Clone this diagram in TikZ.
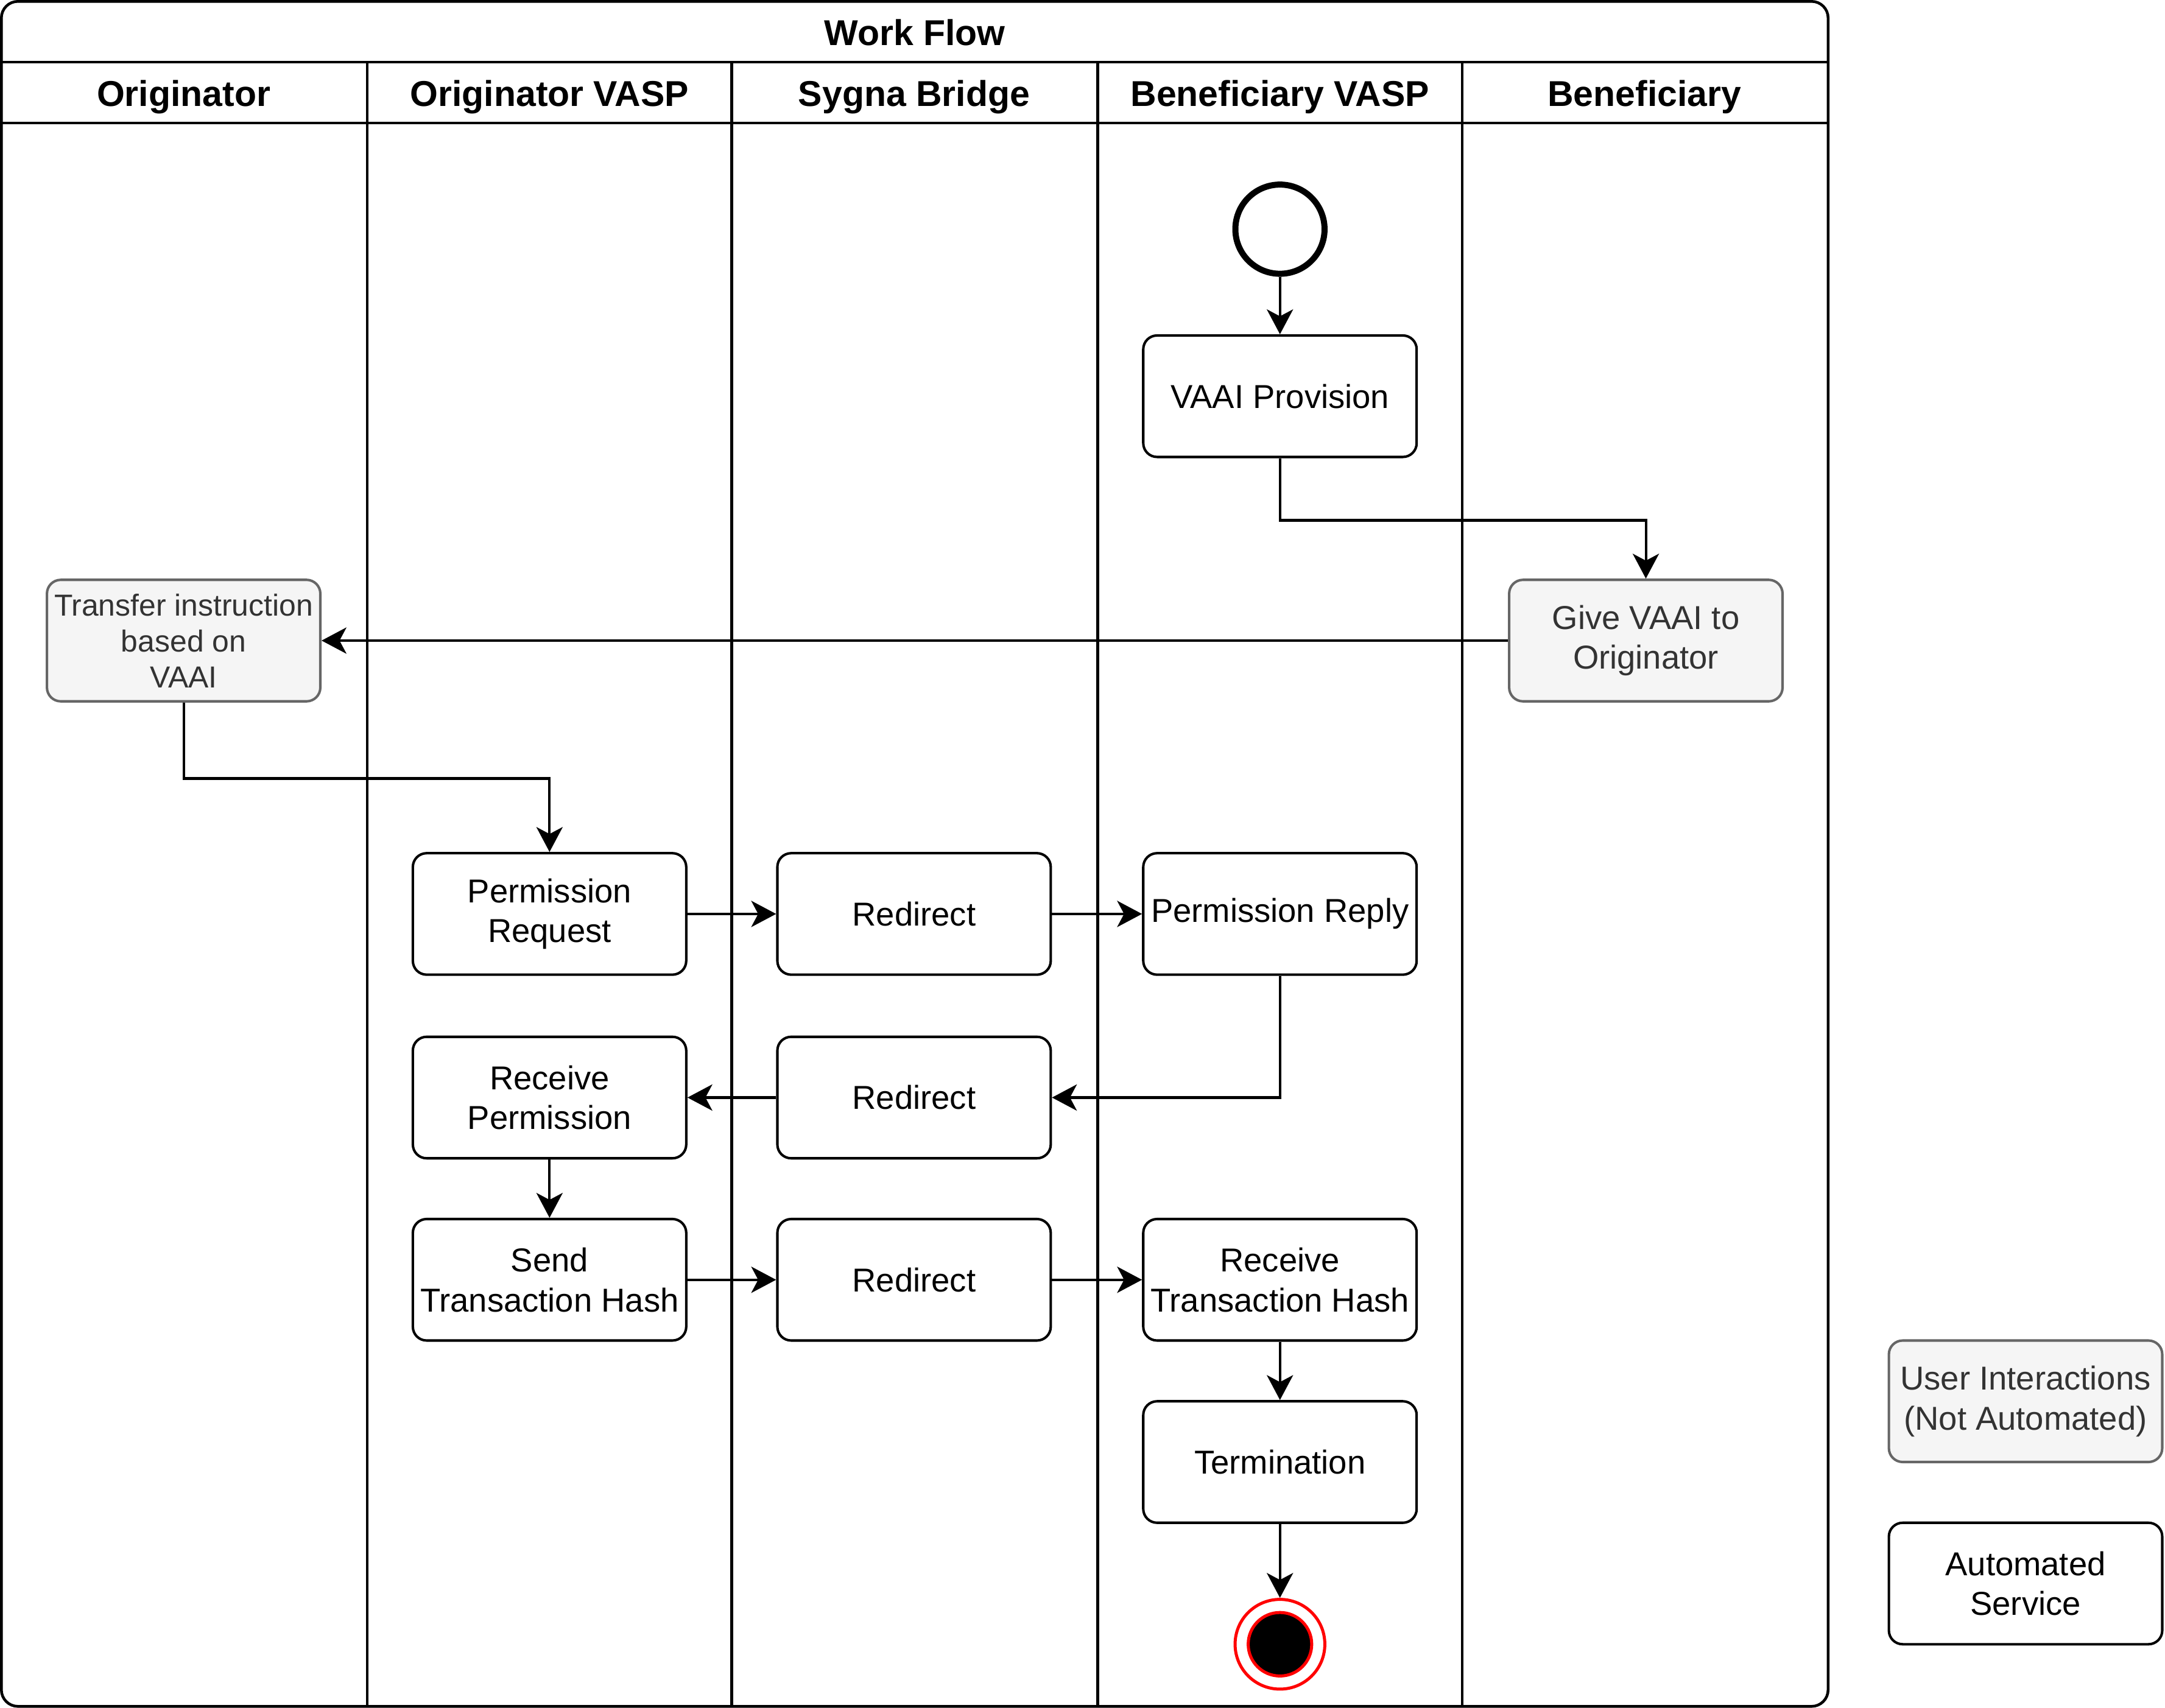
\documentclass[tikz,border=0pt]{standalone}
\usepackage{fontspec}
\setmainfont{Liberation Sans}
\usetikzlibrary{arrows.meta}
\definecolor{uifill}{HTML}{F5F5F5}
\definecolor{uistroke}{HTML}{666666}
\definecolor{uitext}{HTML}{333333}
\begin{document}
\begin{tikzpicture}[x=0.5pt,y=-0.5pt,
  box/.style={draw, line width=0.9pt, rounded corners=5pt, minimum width=99pt, minimum height=44pt, align=center, font=\fontsize{12}{14.5}\selectfont, inner sep=1pt},
  user/.style={box, fill=uifill, draw=uistroke, text=uitext},
  arr/.style={line width=0.9pt, -{Stealth[length=9pt,width=9.5pt,inset=2.5pt]}},
  lanehead/.style={font=\bfseries\fontsize{13}{15}\selectfont, inner sep=0pt, anchor=base},
  frame/.style={line width=1pt}
]
\useasboundingbox (0,0) rectangle (1568,1237);

% pool and lanes
\draw[frame, rounded corners=6pt] (1,1) rectangle (1324,1236);
\draw[frame] (1,45) -- (1324,45);
\draw[frame] (1,89) -- (1324,89);
\foreach \x in {266,530,795,1059} \draw[frame] (\x,45) -- (\x,1236);

\node[lanehead] (title) at (662.5,33) {Work Flow};
\node[lanehead] (h1) at (133,77) {Originator};
\node[lanehead] (h2) at (398,77) {Originator VASP};
\node[lanehead] (h3) at (662,77) {Sygna Bridge};
\node[lanehead] (h4) at (927,77) {Beneficiary VASP};
\node[lanehead] (h5) at (1191,77) {Beneficiary};

% nodes
\node[circle, draw, line width=2.2pt, minimum size=32.3pt, inner sep=0pt] (start) at (927,166) {};
\node[box] (vaai) at (927,287) {VAAI Provision};
\node[user] (give) at (1192,464) {Give VAAI to\\Originator};
\node[user, font=\fontsize{11}{13}\selectfont] (transfer) at (133,464) {Transfer instruction\\based on\\VAAI};
\node[box] (preq) at (398,662) {Permission\\Request};
\node[box] (red1) at (662,662) {Redirect};
\node[box] (prep) at (927,662) {Permission Reply};
\node[box] (rperm) at (398,795) {Receive\\Permission};
\node[box] (red2) at (662,795) {Redirect};
\node[box] (stx) at (398,927) {Send\\Transaction Hash};
\node[box] (red3) at (662,927) {Redirect};
\node[box] (rtx) at (927,927) {Receive\\Transaction Hash};
\node[box] (term) at (927,1059) {Termination};
\node[circle, draw=red, fill=white, line width=1.1pt, minimum size=32.5pt, inner sep=0pt] (end) at (927,1191) {};
\node[circle, draw=red, fill=black, line width=1.1pt, minimum size=23pt, inner sep=0pt] (endin) at (927,1191) {};

% legend
\node[user] (leg1) at (1467,1015) {User Interactions\\(Not Automated)};
\node[box] (leg2) at (1467,1147) {Automated\\Service};

% connectors
\draw[arr] (start) -- (vaai);
\draw[arr] (vaai.south) -- ++(0,45) -| (give.north);
\draw[arr] (give.west) -- (transfer.east);
\draw[arr] (transfer.south) -- ++(0,55) -| (preq.north);
\draw[arr] (preq) -- (red1);
\draw[arr] (red1) -- (prep);
\draw[arr] (prep.south) |- (red2.east);
\draw[arr] (red2) -- (rperm);
\draw[arr] (rperm) -- (stx);
\draw[arr] (stx) -- (red3);
\draw[arr] (red3) -- (rtx);
\draw[arr] (rtx) -- (term);
\draw[arr] (term) -- (end);
\end{tikzpicture}
\end{document}
